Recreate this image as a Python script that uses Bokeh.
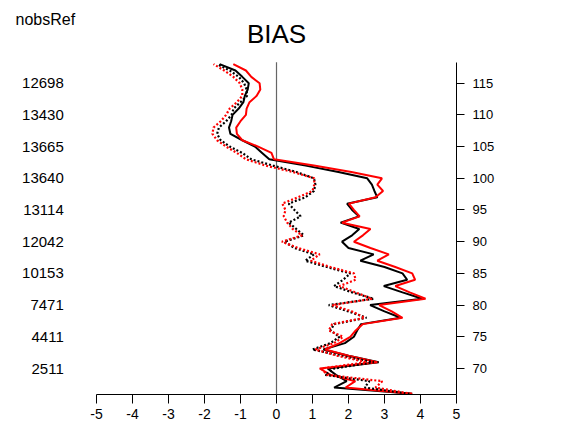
from bokeh.plotting import figure
from bokeh.models import Range1d, FixedTicker, Label
from bokeh.core.properties import value
from bokeh.embed import file_html
from bokeh.resources import INLINE

# Model levels (bottom to top)
levels = list(range(66, 119))

# BIAS profiles per level
exp_solid_black = [3.77, 1.60, 1.95, 1.65, 1.42, 2.84, 2.00, 1.30, 1.90, 2.15,
                   2.24, 2.35, 3.45, 3.00, 2.60, 4.05, 3.50, 2.98, 3.63, 3.50,
                   3.00, 2.33, 2.70, 2.00, 1.82, 2.10, 2.30, 1.78, 2.29, 2.10,
                   1.96, 2.80, 2.72, 2.65, 2.52, 1.72, 0.81, -0.20, -0.40, -0.60,
                   -0.95, -1.28, -1.32, -1.26, -1.22, -1.05, -0.92, -0.88, -0.80, -0.77,
                   -0.95, -1.14, -1.58]
exp_solid_red = [3.77, 1.92, 2.19, 1.50, 1.20, 2.80, 2.00, 1.35, 1.75, 2.05,
                 2.20, 2.40, 3.50, 3.20, 2.85, 4.14, 3.70, 3.30, 3.85, 3.77,
                 3.30, 2.80, 3.12, 2.61, 2.15, 2.40, 2.61, 1.82, 2.31, 2.15,
                 2.01, 2.75, 2.96, 2.80, 2.93, 2.08, 1.04, -0.07, -0.14, -0.51,
                 -0.95, -1.10, -1.12, -1.00, -0.85, -0.83, -0.75, -0.55, -0.45, -0.47,
                 -0.70, -0.85, -1.20]
ref_dotted_black = [3.70, 2.45, 2.58, 1.35, 1.60, 2.70, 1.80, 1.00, 1.50, 1.75,
                    1.50, 1.60, 2.50, 2.00, 1.45, 2.70, 2.10, 1.60, 1.85, 2.05,
                    1.40, 0.80, 1.04, 0.50, 0.22, 0.76, 0.55, 0.34, 0.67, 0.50,
                    0.34, 0.80, 1.04, 1.08, 1.04, 0.55, -0.10, -0.70, -0.95, -1.30,
                    -1.55, -1.65, -1.60, -1.40, -1.25, -1.19, -1.00, -0.82, -0.83, -0.90,
                    -1.05, -1.30, -1.65]
ref_dotted_red = [3.75, 2.75, 2.94, 1.40, 1.25, 2.50, 1.70, 1.08, 1.60, 1.85,
                  1.45, 1.55, 2.45, 2.10, 1.55, 2.65, 2.20, 1.75, 2.20, 2.15,
                  1.50, 0.95, 1.20, 0.60, 0.15, 0.71, 0.45, 0.30, 0.20, 0.25,
                  0.16, 0.60, 1.00, 1.05, 1.05, 0.45, -0.30, -0.85, -1.10, -1.40,
                  -1.65, -1.78, -1.75, -1.55, -1.40, -1.30, -1.10, -0.95, -0.95, -1.02,
                  -1.20, -1.45, -1.75]

# Number of reference observations shown beside the level ticks
nobs_levels = [70, 75, 80, 85, 90, 95, 100, 105, 110, 115]
nobs_ref = [2511, 4411, 7471, 10153, 12042, 13114, 13640, 13665, 13430, 12698]

x_ticks = list(range(-5, 6))
level_ticks = [70, 75, 80, 85, 90, 95, 100, 105, 110, 115]

# Extent of the bias axis and of the level axis
X_MIN, X_MAX = -5, 5
LEV_MIN, LEV_MAX = 65.9, 118.3

FONT = "Liberation Sans"

# The frame reaches the left and top edges so the side texts live in data space
p = figure(width=576, height=423,
           x_range=Range1d(-7.667, X_MAX), y_range=Range1d(LEV_MIN, 128.04),
           output_backend="svg", toolbar_location=None,
           y_axis_location="right",
           min_border_left=0, min_border_right=120,
           min_border_top=0, min_border_bottom=29)
p.outline_line_color = None
p.xgrid.visible = False
p.ygrid.visible = False
p.background_fill_color = "white"
p.border_fill_color = "white"

# bottom axis
xa = p.xaxis[0]
xa.bounds = (X_MIN, X_MAX)
xa.ticker = FixedTicker(ticks=x_ticks)
xa.major_label_overrides = {t: str(t) for t in x_ticks}
xa.major_tick_out = 9
xa.major_tick_in = 0
xa.minor_tick_line_color = None
xa.axis_line_color = "black"
xa.major_tick_line_color = "black"
xa.major_label_text_font = FONT
xa.major_label_text_font_size = "14px"
xa.major_label_text_color = "black"
xa.major_label_standoff = 5

# right axis: levels
ya = p.yaxis[0]
ya.bounds = (LEV_MIN, LEV_MAX)
ya.ticker = FixedTicker(ticks=level_ticks)
ya.major_tick_out = 8
ya.major_tick_in = 0
ya.minor_tick_line_color = None
ya.axis_line_color = "black"
ya.major_tick_line_color = "black"
ya.major_label_text_font = FONT
ya.major_label_text_font_size = "13px"
ya.major_label_text_color = "black"
ya.major_label_standoff = 8

# zero line across the level extent
p.line([0, 0], [LEV_MIN, LEV_MAX], line_color="#666666", line_width=1.2)

p.line(exp_solid_black, levels, line_color="black", line_width=2)
p.line(exp_solid_red, levels, line_color="#ff0000", line_width=2)
p.line(ref_dotted_black, levels, line_color="black", line_width=2.2, line_dash="2 2")
p.line(ref_dotted_red, levels, line_color="#ff0000", line_width=2.2, line_dash="2 2")

# nobsRef counts beside the level ticks
p.text(x=[-5.91] * len(nobs_levels), y=nobs_levels, text=[str(n) for n in nobs_ref],
       text_align="right", text_baseline="middle",
       text_font=value(FONT), text_font_size="15px", text_color="black")

p.add_layout(Label(x=0, y=122.8, text="BIAS", text_align="center", text_baseline="middle",
                   text_font=FONT, text_font_size="26px", text_color="black"))
p.add_layout(Label(x=-7.25, y=125.05, text="nobsRef", text_align="left", text_baseline="middle",
                   text_font=FONT, text_font_size="16px", text_color="black"))

open("out.html", "w").write(file_html(p, INLINE))
